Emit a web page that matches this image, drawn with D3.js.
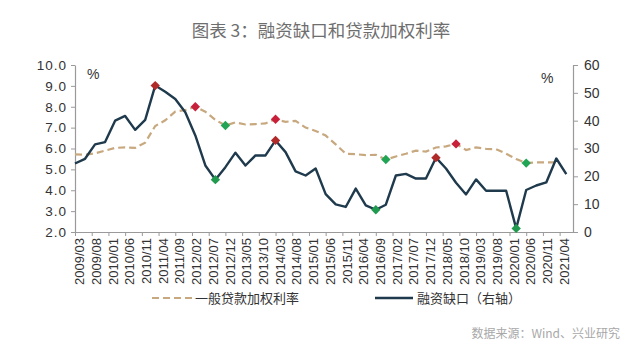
<!DOCTYPE html>
<html><head><meta charset="utf-8">
<script src="https://cdn.jsdelivr.net/npm/d3@7/dist/d3.min.js"></script>
<style>body{margin:0;background:#fff}svg{display:block}</style>
</head><body><svg id="c" width="640" height="356"></svg>
<script>
const quarters = ["2009/03","2009/06","2009/09","2009/12","2010/03","2010/06","2010/09","2010/12",
  "2011/03","2011/06","2011/09","2011/12","2012/03","2012/06","2012/09","2012/12",
  "2013/03","2013/06","2013/09","2013/12","2014/03","2014/06","2014/09","2014/12",
  "2015/03","2015/06","2015/09","2015/12","2016/03","2016/06","2016/09","2016/12",
  "2017/03","2017/06","2017/09","2017/12","2018/03","2018/06","2018/09","2018/12",
  "2019/03","2019/06","2019/09","2019/12","2020/03","2020/06","2020/09","2020/12",
  "2021/03","2021/06"];
// 一般贷款加权利率 (left axis, %)
const loanRate = [5.72,5.70,5.77,5.90,6.03,6.05,6.03,6.28,7.08,7.35,7.77,7.84,8.00,7.76,7.37,7.10,
  7.25,7.15,7.17,7.20,7.40,7.28,7.32,7.00,6.84,6.62,6.20,5.75,5.73,5.68,5.70,5.47,
  5.62,5.75,5.90,5.85,6.05,6.10,6.22,5.93,6.05,5.98,5.97,5.75,5.50,5.30,5.34,5.34,5.34];
// 融资缺口 (right axis, %)
const fundingGap = [24.6,26.3,31.5,32.3,40.0,41.7,36.7,40.3,52.6,50.4,47.8,43.0,34.7,23.9,18.8,23.3,
  28.5,23.9,27.5,27.5,32.9,28.7,21.8,20.3,22.8,13.6,9.9,9.0,15.6,9.6,8.0,9.8,
  20.3,20.9,19.2,19.2,26.7,22.8,17.7,13.5,18.9,14.8,14.8,14.8,1.3,15.1,16.7,17.8,26.4,20.8];
const xTickLabels = ["2009/03","2009/08","2010/01","2010/06","2010/11","2011/04","2011/09","2012/02",
  "2012/07","2012/12","2013/05","2013/10","2014/03","2014/08","2015/01","2015/06","2015/11","2016/04",
  "2016/09","2017/02","2017/07","2017/12","2018/05","2018/10","2019/03","2019/08","2020/01","2020/06",
  "2020/11","2021/04"];
const leftTicks = [2,3,4,5,6,7,8,9,10];
const rightTicks = [0,10,20,30,40,50,60];
const redMarkers = [["rate","2012/03"],["rate","2014/03"],["rate","2018/09"],
  ["gap","2011/03"],["gap","2014/03"],["gap","2018/03"]];
const greenMarkers = [["rate","2012/12"],["rate","2016/12"],["rate","2020/06"],
  ["gap","2012/09"],["gap","2016/09"],["gap","2020/03"]];

const monthIdx = s => { const [y,m] = s.split("/").map(Number); return (y-2009)*12 + (m-3); };

const svg = d3.select("#c");
const L = 75, R = 573, T = 65, B = 232;
const x = d3.scaleLinear().domain([0,149]).range([L,R]);
const yL = d3.scaleLinear().domain([2,10]).range([B,T]);
const yR = d3.scaleLinear().domain([0,60]).range([B,T]);
const axisColor = "#9a9a9a";
const textColor = "#333";
const rateColor = "#c8a87e";
const gapColor = "#1e3a4c";

svg.append("text").attr("x",321).attr("y",37).attr("text-anchor","middle")
  .attr("font-family","'Noto Sans CJK SC',sans-serif").attr("font-size",17.5)
  .attr("fill","#6e6e6e").text("图表 3：融资缺口和贷款加权利率");

// left axis
const gL = svg.append("g").attr("transform",`translate(${L},0)`)
  .call(d3.axisLeft(yL).tickValues(leftTicks).tickFormat(d3.format(".1f")).tickSize(4).tickSizeOuter(0));
gL.selectAll("text").attr("font-family","'Liberation Sans',Arial,sans-serif").attr("font-size",13.5)
  .attr("letter-spacing","1px").attr("fill",textColor).attr("x",-8);
// right axis
const gR = svg.append("g").attr("transform",`translate(${R},0)`)
  .call(d3.axisRight(yR).tickValues(rightTicks).tickFormat(d3.format("d")).tickSize(5).tickSizeOuter(0));
gR.selectAll("text").attr("font-family","'Liberation Sans',Arial,sans-serif").attr("font-size",14)
  .attr("fill",textColor).attr("x",11);
// bottom axis
const gB = svg.append("g").attr("transform",`translate(0,${B})`)
  .call(d3.axisBottom(x).tickValues(xTickLabels.map(monthIdx)).tickFormat((d,i)=>xTickLabels[i])
    .tickSize(4).tickSizeOuter(0));
gB.selectAll("text").attr("font-family","'Liberation Sans',Arial,sans-serif").attr("font-size",13)
  .attr("fill",textColor).attr("text-anchor","end").attr("x",0).attr("y",0).attr("dy","0.36em")
  .attr("transform","translate(4,6) rotate(-90)");
[gL,gR,gB].forEach(g=>{ g.selectAll("path,line").attr("stroke",axisColor); g.select(".domain").attr("stroke-width",1.2); });

svg.append("text").attr("x",87).attr("y",79).attr("font-family","'Liberation Sans',Arial,sans-serif")
  .attr("font-size",14).attr("fill",textColor).text("%");
svg.append("text").attr("x",541).attr("y",83).attr("font-family","'Liberation Sans',Arial,sans-serif")
  .attr("font-size",14).attr("fill",textColor).text("%");

const rateLine = d3.line().x((d,i)=>x(monthIdx(quarters[i]))).y(d=>yL(d));
const gapLine = d3.line().x((d,i)=>x(monthIdx(quarters[i]))).y(d=>yR(d));
svg.append("path").datum(loanRate).attr("d",rateLine).attr("fill","none")
  .attr("stroke",rateColor).attr("stroke-width",2.2).attr("stroke-dasharray","7,4");
svg.append("path").datum(fundingGap).attr("d",gapLine).attr("fill","none")
  .attr("stroke",gapColor).attr("stroke-width",2.4).attr("stroke-linejoin","round");

const diamond = d3.symbol().type(d3.symbolSquare).size(44);
function markerPos(m){
  const i = quarters.indexOf(m[1]);
  const px = x(monthIdx(m[1]));
  const py = m[0]==="rate" ? yL(loanRate[i]) : yR(fundingGap[i]);
  return [px,py];
}
function drawMarkers(list, fillRate, fillGap){
  svg.append("g").selectAll("path").data(list).join("path")
    .attr("d",diamond)
    .attr("transform",d=>{const [px,py]=markerPos(d); return `translate(${px},${py}) rotate(45)`;})
    .attr("fill",d=>d[0]==="rate"?fillRate:fillGap);
}
drawMarkers(redMarkers,"#c8203a","#b02a2a");
drawMarkers(greenMarkers,"#22a455","#1f9a4e");

// legend
const lg = svg.append("g").attr("font-family","'Noto Sans CJK SC',serif").attr("font-size",13).attr("fill",textColor);
lg.append("line").attr("x1",152).attr("x2",192).attr("y1",298).attr("y2",298)
  .attr("stroke",rateColor).attr("stroke-width",2.2).attr("stroke-dasharray","7,4");
lg.append("text").attr("x",195).attr("y",303).text("一般贷款加权利率");
lg.append("line").attr("x1",375).attr("x2",413).attr("y1",298).attr("y2",298)
  .attr("stroke",gapColor).attr("stroke-width",2.4);
lg.append("text").attr("x",417).attr("y",303).text("融资缺口（右轴）");

svg.append("text").attr("x",620).attr("y",338).attr("text-anchor","end")
  .attr("font-family","'Noto Sans CJK SC',sans-serif").attr("font-size",12)
  .attr("fill","#a8a8a8").text("数据来源：Wind、兴业研究");
</script></body></html>
